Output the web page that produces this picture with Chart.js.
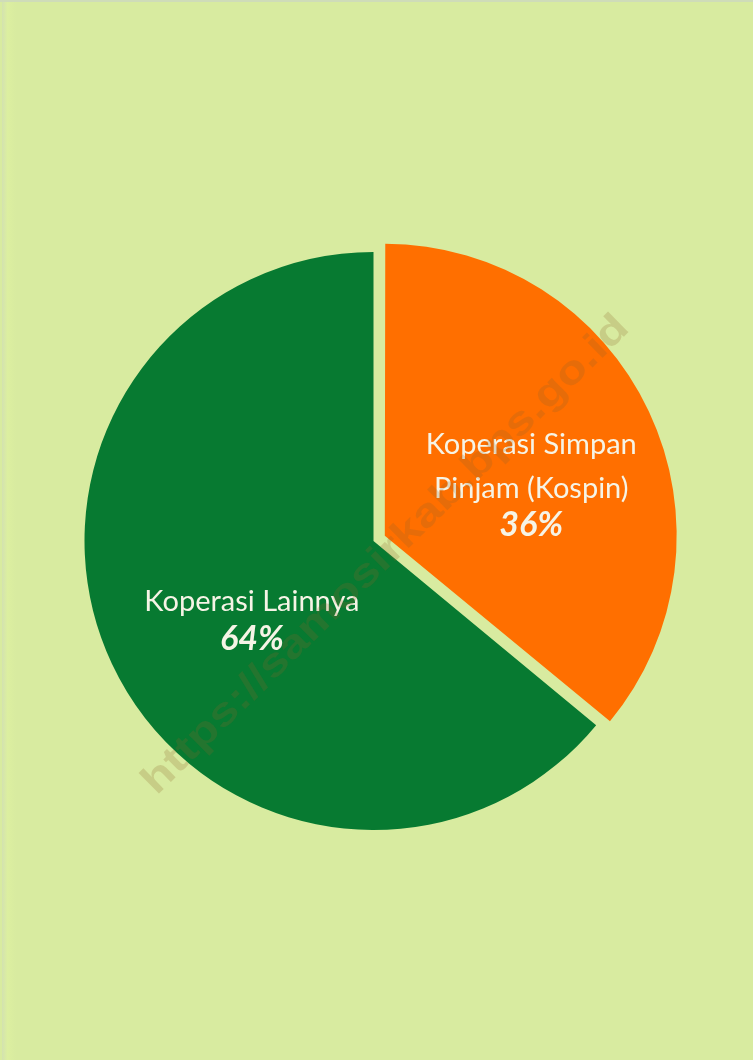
<!DOCTYPE html>
<html>
<head>
<meta charset="utf-8">
<script src="https://cdn.jsdelivr.net/npm/chart.js@4"></script>
<style>
  html, body { margin: 0; padding: 0; background: #d8eba0; }
  #wrap { position: relative; width: 753px; height: 1060px; border-top: 2px solid #cfdcb9; box-sizing: border-box; }
  #wrap:before { content: ""; position: absolute; left: 2px; top: 0; bottom: 0; width: 14px;
    background: linear-gradient(to right, #d3e2b0, #dcefa0 40%, #d8eba0); }
  canvas { position: absolute; left: 0; top: -2px; }
</style>
</head>
<body>
<div id="wrap"><canvas id="pieChart" width="753" height="1060"></canvas></div>
<script>
// chart data
const sliceLabels = [["Koperasi Simpan", "Pinjam (Kospin)"], ["Koperasi Lainnya"]];
const sliceValues = [36, 64];
const sliceColors = ["#ff6f00", "#077a31"];
const sliceOffsets = [50, 0];
const watermark = "https://samosirkab.bps.go.id";

document.addEventListener("DOMContentLoaded", function () {
    // chart.js moves an arc by offset/4 * (1 + fix), same math here for the labels
    function arcShift(p, off) {
        const circ = p.endAngle - p.startAngle;
        const fix = 1 - Math.sin(Math.min(Math.PI, circ));
        return off / 4 * (1 + fix);
    }

    const labelDist = [0.55, 0.465];
    const labelDrop = [18, 22];

    // draws the label + percent inside each slice
    const sliceText = {
        id: "sliceText",
        afterDatasetsDraw(chart) {
            const ctx = chart.ctx;
            const meta = chart.getDatasetMeta(0);
            const total = sliceValues.reduce((a, b) => a + b, 0);
            meta.data.forEach(function (arc, i) {
                const p = arc.getProps(["x", "y", "startAngle", "endAngle", "outerRadius"], true);
                const mid = (p.startAngle + p.endAngle) / 2;
                const dist = p.outerRadius * labelDist[i] + arcShift(p, sliceOffsets[i]);
                const cx = p.x + Math.cos(mid) * dist;
                const cy = p.y + Math.sin(mid) * dist + labelDrop[i];
                const lines = sliceLabels[i];
                const lineH = 44, pctH = 37;
                const blockH = (lines.length - 1) * lineH + pctH;
                let y = cy - blockH / 2;
                ctx.save();
                ctx.fillStyle = "#f6f4e6";
                ctx.textAlign = "center";
                ctx.textBaseline = "middle";
                ctx.font = "29px Lato, 'Open Sans', sans-serif";
                lines.forEach(function (t, k) {
                    ctx.fillText(t, cx, y);
                    if (k < lines.length - 1) y += lineH;
                });
                y += pctH;
                ctx.font = "italic bold 34px Lato, 'Open Sans', sans-serif";
                ctx.fillText(Math.round(sliceValues[i] / total * 100) + "%", cx, y);
                ctx.restore();
            });
        },
        afterDraw(chart) {
            // faint diagonal site watermark
            const ctx = chart.ctx;
            ctx.save();
            ctx.translate(386, 555);
            ctx.rotate(-44.5 * Math.PI / 180);
            ctx.font = "bold 40px 'Liberation Sans', Arial, sans-serif";
            const w = ctx.measureText(watermark).width;
            ctx.scale(665 / w, 1);
            ctx.fillStyle = "rgba(140, 100, 40, 0.22)";
            ctx.textAlign = "center";
            ctx.textBaseline = "middle";
            ctx.fillText(watermark, 0, 0);
            ctx.restore();
        }
    };

    const ctx = document.getElementById("pieChart").getContext("2d");
    new Chart(ctx, {
        type: "pie",
        data: {
            labels: sliceLabels.map(l => l.join(" ")),
            datasets: [{
                data: sliceValues,
                backgroundColor: sliceColors,
                offset: sliceOffsets,
                borderWidth: 0,
                hoverOffset: 0
            }]
        },
        options: {
            responsive: false,
            animation: false,
            radius: 289,
            layout: { padding: { left: 0, right: 6, top: 22, bottom: 0 } },
            plugins: {
                legend: { display: false },
                tooltip: { enabled: false },
                title: { display: false }
            },
            events: []
        },
        plugins: [sliceText]
    });
});
</script>
</body>
</html>
